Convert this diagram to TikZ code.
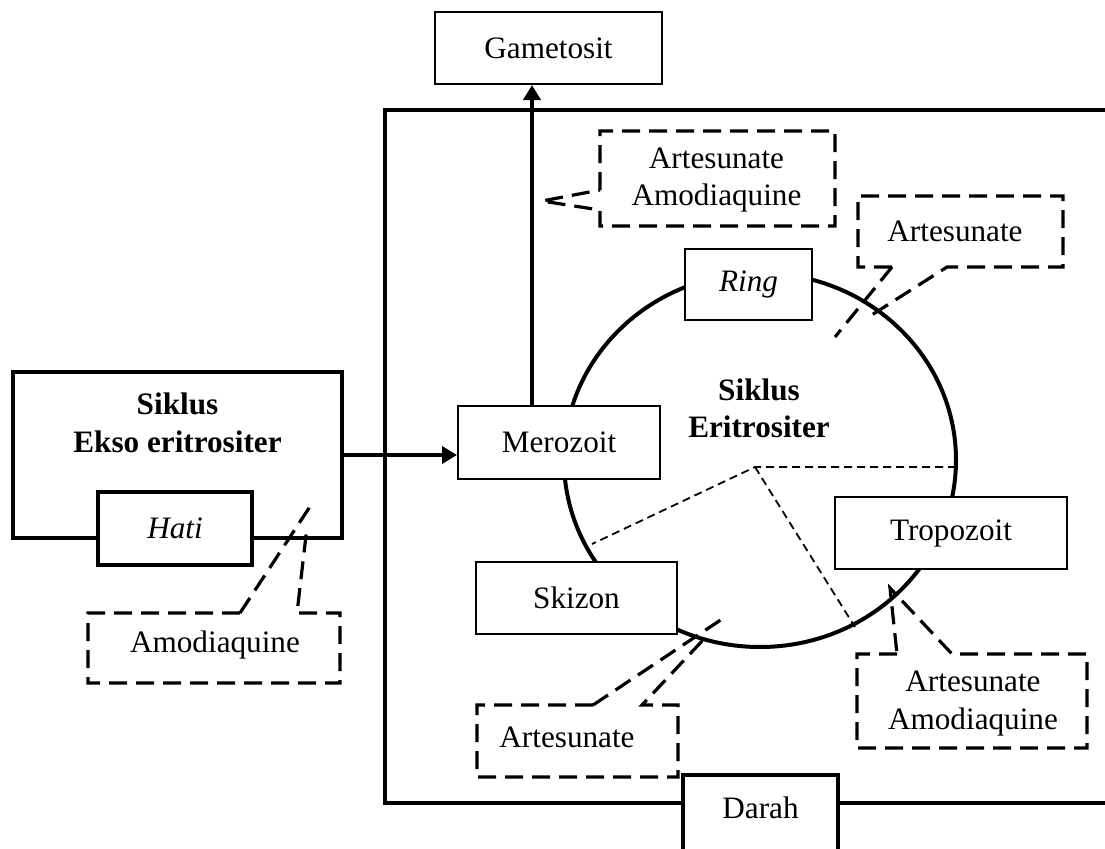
\documentclass[tikz,border=0pt]{standalone}
\usepackage{fontspec}
\setmainfont{Liberation Serif}
\usetikzlibrary{arrows.meta}
\begin{document}
\begin{tikzpicture}[x=0.5pt,y=-0.5pt,
  thinbox/.style={draw, line width=1pt, fill=white, inner sep=0pt, align=center},
  thickbox/.style={draw, line width=2pt, fill=white, inner sep=0pt, align=center},
  thickline/.style={line width=2pt},
  callout/.style={line width=1.6pt, dash pattern=on 9pt off 4.5pt, line join=miter},
  guide/.style={line width=0.9pt, dash pattern=on 4pt off 2.5pt},
  arr/.style={-{Triangle[length=7.5pt,width=8.5pt]}, line width=2pt},
  lbl/.style={inner sep=0pt, align=center}
]
\fontsize{15.6}{18.7}\selectfont
\useasboundingbox (0,0) rectangle (1105,848);

% blood frame
\coordinate (bTR) at (1112,110);
\coordinate (bTL) at (385,110);
\coordinate (bBL) at (385,803);
\coordinate (bBR) at (1112,803);
\draw[thickline, line join=miter] (bTR) -- (bTL) -- (bBL) -- (bBR);

% erythrocytic cycle
\draw[line width=2pt] (760,460) ellipse [x radius=196, y radius=187];
\coordinate (v) at (755,467);
\coordinate (g1) at (956,467);
\coordinate (g2) at (592,544);
\coordinate (g3) at (855,627);
\draw[guide] (g1) -- (v) -- (g2);
\draw[guide] (v) -- (g3);

\node[thinbox, minimum width=113.5pt, minimum height=36pt] (gam) at (548.5,48) {Gametosit};
\node[thinbox, minimum width=101pt, minimum height=36.5pt] (mer) at (559,442.5) {Merozoit};
\node[thinbox, minimum width=63.5pt, minimum height=35.5pt] (ring) at (748.5,284.5) {\itshape Ring};
\node[thinbox, minimum width=100.5pt, minimum height=36pt] (ski) at (576.5,598) {Skizon};
\node[thinbox, minimum width=116pt, minimum height=36pt] (tro) at (951,533) {Tropozoit};
\node[lbl, font=\bfseries] (eri) at (759,408.5) {Siklus\\Eritrositer};

% exo-erythrocytic
\node[thickbox, line width=2.3pt, minimum width=164.5pt, minimum height=83pt] (ekso) at (177.5,455) {};
\node[lbl, font=\bfseries] (eksol) at (177.5,423) {Siklus\\Ekso eritrositer};
\node[thickbox, line width=1.8pt, minimum width=77pt, minimum height=36.5pt] (hati) at (175,528.5) {\itshape Hati};

% arrows
\draw[arr] (ekso.east) -- (mer.west |- ekso.east);
\coordinate (ax) at (532,0);
\draw[arr] (mer.north -| ax) -- (gam.south -| ax);

% Darah
\node[thickbox, minimum width=77.5pt, minimum height=48pt, anchor=north] (dar) at (760.5,773) {};
\node[lbl] (darl) at (760.5,808) {Darah};

% callouts
\node[lbl] (c1) at (716.5,180) {Artesunate\\Amodiaquine};
\coordinate (c1tip) at (542,201);
\draw[callout] (600,190) -- (600,131) -- (835,131) -- (835,226) -- (600,226) -- (600,210) -- (c1tip) -- cycle;

\node[lbl] (c2) at (955,231) {Artesunate};
\coordinate (c2a) at (867,318);
\coordinate (c2b) at (835,337);
\draw[callout] (892,267) -- (858,267) -- (858,196) -- (1063,196) -- (1063,267) -- (947,267) -- (c2a);
\draw[callout] (892,267) -- (c2b);

\node[lbl] (c3) at (973,703.5) {Artesunate\\Amodiaquine};
\coordinate (c3tip) at (890,588);
\draw[callout] (897,654) -- (857,654) -- (857,748) -- (1087,748) -- (1087,654) -- (952,654) -- (c3tip) -- cycle;

\node[lbl] (c4) at (567,737) {Artesunate};
\coordinate (c4a) at (703,640);
\coordinate (c4b) at (725,617);
\draw[callout] (593,705) -- (477,705) -- (477,777) -- (678,777) -- (678,705) -- (642,705) -- (c4a);
\draw[callout] (593,705) -- (c4b);

\node[lbl] (c5) at (215,645) {Amodiaquine};
\coordinate (c5a) at (307,527);
\coordinate (c5b) at (313,502);
\draw[callout] (240,613) -- (88,613) -- (88,683) -- (340,683) -- (340,613) -- (297,613) -- (c5a);
\draw[callout] (240,613) -- (c5b);
\end{tikzpicture}
\end{document}
